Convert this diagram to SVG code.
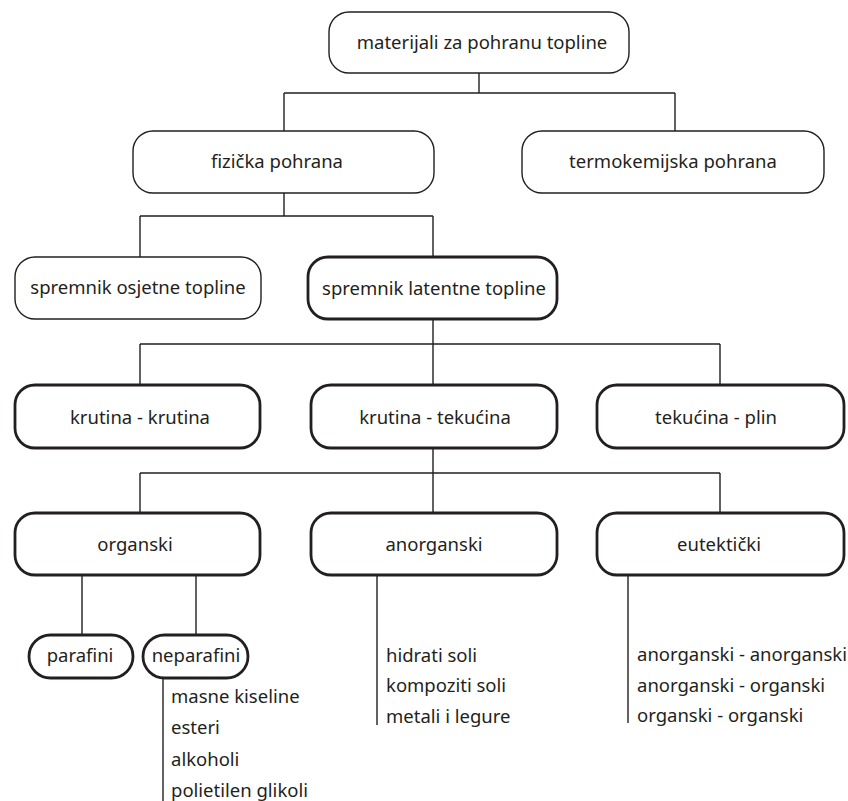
<svg xmlns="http://www.w3.org/2000/svg" width="848" height="801" viewBox="0 0 848 801">
<style>
.bg{fill:#ffffff}
.thin{fill:#ffffff;stroke:#231f20;stroke-width:1.4}
.thick{fill:#ffffff;stroke:#231f20;stroke-width:2.8}
.lbl{font-family:"Noto Sans","Open Sans",sans-serif;font-size:18.5px;fill:#231f20;text-anchor:middle}
.item{font-family:"Noto Sans","Open Sans",sans-serif;font-size:18.5px;fill:#231f20}
.conn{fill:none;stroke:#231f20;stroke-width:1.4}
</style>
<rect class="bg" x="0" y="0" width="848" height="801"/>
<g id="connectors" class="conn">
<path d="M479 73V93M284 93H675M284 93V131M675 93V131"/>
<path d="M284 193V216M140 216H433M140 216V257M433 216V257"/>
<path d="M433 319V385M140 344H720M140 344V385M720 344V385"/>
<path d="M433 448V513M140 473H720M140 473V513M720 473V513"/>
<path d="M82 575V635M196 575V635"/>
<path d="M163 678V801"/>
<path d="M377 575V725"/>
<path d="M628 575V723"/>
</g>
<g id="n-root"><rect class="thin" x="329" y="12" width="300" height="61" rx="20"/><text class="lbl" x="482" y="49">materijali za pohranu topline</text></g>
<g id="n-fizicka"><rect class="thin" x="133" y="131" width="301" height="62" rx="20"/><text class="lbl" x="277" y="168">fizička pohrana</text></g>
<g id="n-termokemijska"><rect class="thin" x="522" y="131" width="302" height="62" rx="20"/><text class="lbl" x="673" y="168">termokemijska pohrana</text></g>
<g id="n-osjetne"><rect class="thin" x="15" y="257" width="246" height="62" rx="20"/><text class="lbl" x="138" y="294">spremnik osjetne topline</text></g>
<g id="n-latentne"><rect class="thick" x="308" y="257" width="249" height="62" rx="20"/><text class="lbl" x="434" y="295">spremnik latentne topline</text></g>
<g id="n-kk"><rect class="thick" x="15" y="385" width="245" height="63" rx="20"/><text class="lbl" x="140" y="424">krutina - krutina</text></g>
<g id="n-kt"><rect class="thick" x="311" y="385" width="246" height="63" rx="20"/><text class="lbl" x="435" y="424">krutina - tekućina</text></g>
<g id="n-tp"><rect class="thick" x="597" y="385" width="247" height="63" rx="20"/><text class="lbl" x="716" y="424">tekućina - plin</text></g>
<g id="n-organski"><rect class="thick" x="15" y="513" width="245" height="62" rx="20"/><text class="lbl" x="135" y="551">organski</text></g>
<g id="n-anorganski"><rect class="thick" x="311" y="513" width="246" height="62" rx="20"/><text class="lbl" x="434" y="551">anorganski</text></g>
<g id="n-eutekticki"><rect class="thick" x="597" y="513" width="247" height="62" rx="20"/><text class="lbl" x="719" y="551">eutektički</text></g>
<g id="n-parafini"><rect class="thick" x="29" y="635" width="104" height="43" rx="21.5"/><text class="lbl" x="80" y="662">parafini</text></g>
<g id="n-neparafini"><rect class="thick" x="143" y="635" width="105" height="43" rx="21.5"/><text class="lbl" x="196" y="662">neparafini</text></g>
<g id="list-neparafini">
<text class="item" x="171" y="703">masne kiseline</text>
<text class="item" x="171" y="734">esteri</text>
<text class="item" x="171" y="766">alkoholi</text>
<text class="item" x="171" y="797">polietilen glikoli</text>
</g>
<g id="list-anorganski">
<text class="item" x="386" y="662">hidrati soli</text>
<text class="item" x="386" y="692">kompoziti soli</text>
<text class="item" x="386" y="723">metali i legure</text>
</g>
<g id="list-eutekticki">
<text class="item" x="637" y="661">anorganski - anorganski</text>
<text class="item" x="637" y="692">anorganski - organski</text>
<text class="item" x="637" y="722">organski - organski</text>
</g>
</svg>
